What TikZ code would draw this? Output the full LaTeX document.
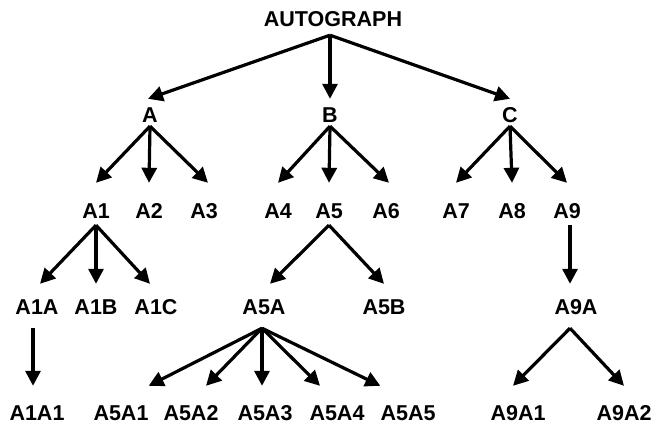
\documentclass[tikz,border=0pt]{standalone}
\usepackage{fontspec}
\setmainfont{Liberation Sans}
\usetikzlibrary{arrows.meta}
\tikzstyle{word}=[inner sep=0pt, anchor=base, font=\fontsize{21.5}{25}\selectfont\bfseries]
\tikzstyle{rootword}=[word, text depth=9pt]
\tikzstyle{lvlone}=[word, text height=23pt, text depth=4pt]
\tikzstyle{lvltwo}=[word, text height=35.5pt, text depth=6.5pt]
\tikzstyle{lvlthree}=[word, text height=30pt, text depth=14pt]
\tikzstyle{lvlfour}=[word, text height=34pt]
\tikzstyle{dedge} = [draw, line width=3.2pt, -{Triangle[length=15pt,width=15pt]}]

\begin{document}
\begin{tikzpicture}[x=1pt,y=-1pt]

      \useasboundingbox (0,0) rectangle (652,424);

      \node[rootword] (root) at (333,26) {AUTOGRAPH};

      \node[lvlone] (A) at (150,122) {A};
      \node[lvlone] (B) at (330,122) {B};
      \node[lvlone] (C) at (510,122) {C};

      \node[lvltwo] (A1) at (96,218.5) {A1};
      \node[lvltwo] (A2) at (149,218.5) {A2};
      \node[lvltwo] (A3) at (204,218.5) {A3};
      \node[lvltwo] (A4) at (278,218.5) {A4};
      \node[lvltwo] (A5) at (329,218.5) {A5};
      \node[lvltwo] (A6) at (386,218.5) {A6};
      \node[lvltwo] (A7) at (456,218.5) {A7};
      \node[lvltwo] (A8) at (512,218.5) {A8};
      \node[lvltwo] (A9) at (567,218.5) {A9};

      \node[lvlthree] (A1A) at (37,314) {A1A};
      \node[lvlthree] (A1B) at (96,314) {A1B};
      \node[lvlthree] (A1C) at (156,314) {A1C};
      \node[lvlthree] (A5A) at (264,314) {A5A};
      \node[lvlthree] (A5B) at (384,314) {A5B};
      \node[lvlthree] (A9A) at (576,314) {A9A};

      \node[lvlfour] (A1A1) at (37,420) {A1A1};
      \node[lvlfour] (A5A1) at (121,420) {A5A1};
      \node[lvlfour] (A5A2) at (191,420) {A5A2};
      \node[lvlfour] (A5A3) at (265,420) {A5A3};
      \node[lvlfour] (A5A4) at (337,420) {A5A4};
      \node[lvlfour] (A5A5) at (408,420) {A5A5};
      \node[lvlfour] (A9A1) at (518,420) {A9A1};
      \node[lvlfour] (A9A2) at (624,420) {A9A2};

      \path[dedge] ([xshift=-3pt]root.south) -- ([xshift=-2pt]A.north);
      \path[dedge] ([xshift=-3pt]root.south) -- (B.north);
      \path[dedge] ([xshift=-3pt]root.south) -- (C.north);

      \path[dedge] (A.south) -- (A1.north);
      \path[dedge] (A.south) -- (A2.north);
      \path[dedge] (A.south) -- ([xshift=4pt]A3.north);

      \path[dedge] (B.south) -- (A4.north);
      \path[dedge] (B.south) -- (A5.north);
      \path[dedge] (B.south) -- ([xshift=3pt]A6.north);

      \path[dedge] (C.south) -- (A7.north);
      \path[dedge] (C.south) -- (A8.north);
      \path[dedge] (C.south) -- (A9.north);

      \path[dedge] (A1.south) -- ([xshift=3pt]A1A.north);
      \path[dedge] (A1.south) -- (A1B.north);
      \path[dedge] (A1.south) -- ([xshift=-6pt]A1C.north);

      \path[dedge] (A5.south) -- ([xshift=6pt]A5A.north);
      \path[dedge] (A5.south) -- (A5B.north);

      \path[dedge] ([xshift=3pt]A9.south) -- ([xshift=-6pt]A9A.north);

      \path[dedge] ([xshift=-4pt]A1A.south) -- ([xshift=-4pt]A1A1.north);

      \path[dedge] ([xshift=-2pt]A5A.south) -- (A5A1.north east);
      \path[dedge] ([xshift=-2pt]A5A.south) -- ([xshift=15pt]A5A2.north);
      \path[dedge] ([xshift=-2pt]A5A.south) -- ([xshift=-3pt]A5A3.north);
      \path[dedge] ([xshift=-2pt]A5A.south) -- ([xshift=-17pt]A5A4.north);
      \path[dedge] ([xshift=-2pt]A5A.south) -- (A5A5.north west);

      \path[dedge] ([xshift=-6pt]A9A.south) -- ([xshift=-5pt]A9A1.north);
      \path[dedge] ([xshift=-6pt]A9A.south) -- (A9A2.north);

    \end{tikzpicture}
\end{document}
